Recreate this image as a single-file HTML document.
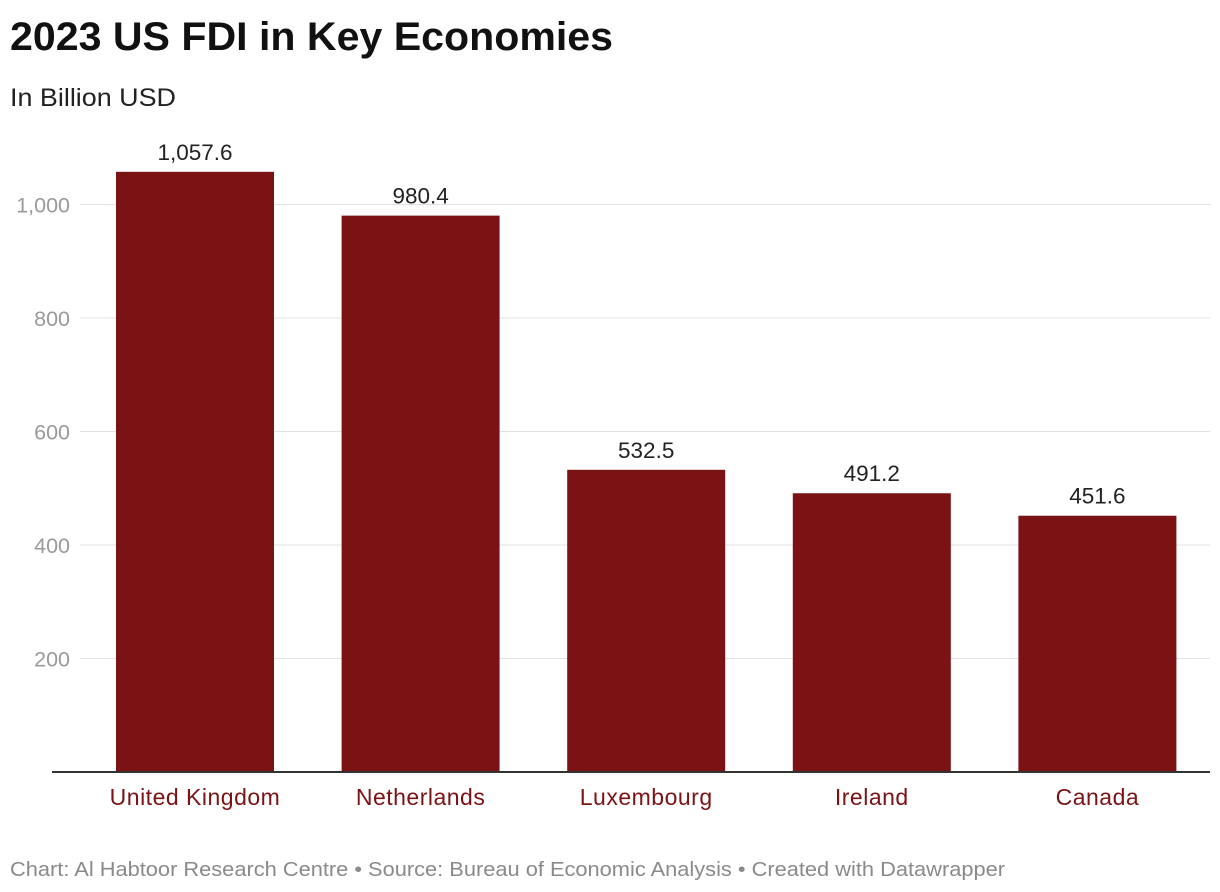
<!DOCTYPE html>
<html><head><meta charset="utf-8"><style>
body{margin:0;background:#fff;font-family:"Liberation Sans",sans-serif;}
#wrap{position:relative;width:1220px;height:892px;overflow:hidden}
</style></head><body><div id="wrap">
<svg id="chart" width="1220" height="892">
<text x="10" y="50" font-size="40" font-weight="bold" fill="#111" textLength="603" lengthAdjust="spacingAndGlyphs">2023 US FDI in Key Economies</text>
<text x="10" y="106" font-size="25" fill="#222" textLength="166" lengthAdjust="spacingAndGlyphs">In Billion USD</text>
<g id="grid"></g><g id="bars"></g>
<text x="10" y="876" font-size="20" fill="#8a8a8a" textLength="995" lengthAdjust="spacingAndGlyphs">Chart: Al Habtoor Research Centre • Source: Bureau of Economic Analysis  • Created with Datawrapper</text>
</svg></div>
<script>
const categories=["United Kingdom","Netherlands","Luxembourg","Ireland","Canada"];
const values=[1057.6,980.4,532.5,491.2,451.6];
const valueLabels=["1,057.6","980.4","532.5","491.2","451.6"];
const ticks=[200,400,600,800,1000];
const tickLabels=["200","400","600","800","1,000"];
const NS="http://www.w3.org/2000/svg";
const y0=772,pxPer=113.5/200,x0=52,x1=1210,band=225.6,barW=158,firstX=116;
const y=v=>y0-v*pxPer;
const xb=i=>firstX+i*band;
const grid=document.getElementById('grid'),bars=document.getElementById('bars');
function mk(t,a,p){const e=document.createElementNS(NS,t);for(const k in a)e.setAttribute(k,a[k]);p.appendChild(e);return e;}
ticks.forEach((t,i)=>{
 const l=mk('line',{x1:80,x2:x1,y1:y(t),y2:y(t),stroke:'#e2e2e2','stroke-width':1},grid);
 
 
 const tx=mk('text',{x:70,y:y(t)+8,'text-anchor':'end','font-size':21.5,fill:'#9a9a9a'},grid);
 tx.textContent=tickLabels[i];
 
 
});
categories.forEach((c,i)=>{
 const r=mk('rect',{x:xb(i),y:y(values[i]),width:barW,height:y0-y(values[i]),fill:'#7b1315'},bars);
 
 
 const v=mk('text',{x:xb(i)+barW/2,y:y(values[i])-12,'text-anchor':'middle','font-size':22.5,fill:'#222'},bars);
 v.textContent=valueLabels[i];
 
 
 const cl=mk('text',{x:xb(i)+barW/2,y:805,'text-anchor':'middle','font-size':23,'letter-spacing':0.5,fill:'#7b1315'},bars);
 cl.textContent=c;
 
 
});
const ax=mk('line',{x1:x0,x2:x1,y1:y0,y2:y0,stroke:'#333','stroke-width':2},bars);


</script></body></html>
